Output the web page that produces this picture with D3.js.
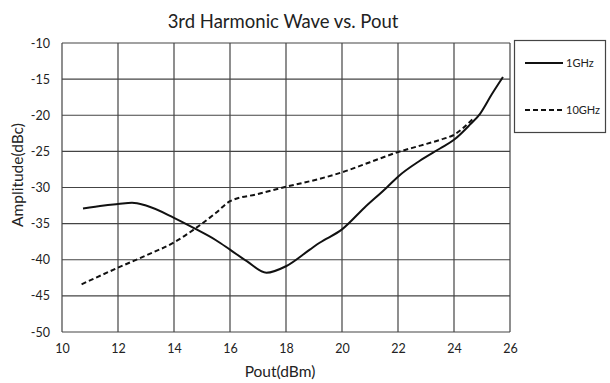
<!DOCTYPE html>
<html>
<head>
<meta charset="utf-8">
<script src="https://cdn.jsdelivr.net/npm/d3@7"></script>
<style>
  body { margin: 0; background: #fff; }
  text { font-family: "Lato", "Open Sans", sans-serif; fill: #222; }
</style>
</head>
<body>
<div class="chart"></div>
<script>
// 3rd harmonic vs output power
const xTicks = [10, 12, 14, 16, 18, 20, 22, 24, 26];
const yTicks = [-10, -15, -20, -25, -30, -35, -40, -45, -50];

const pout1G = [10.75, 11.5, 12, 12.5, 13, 14, 14.75, 15.5, 16, 16.6, 17.3, 18, 18.85, 19.2, 20, 20.8, 21.6, 22, 22.78, 23.5, 24, 24.57, 24.93, 25.35, 25.75];
const amp1G = [-32.9, -32.5, -32.3, -32.1, -32.5, -34.2, -35.7, -37.3, -38.6, -40.2, -41.8, -40.9, -38.6, -37.65, -35.8, -32.8, -30.0, -28.5, -26.3, -24.6, -23.4, -21.3, -19.8, -17.1, -14.7];

const pout10G = [10.7, 12, 13, 14, 14.75, 15.5, 16, 17, 18, 19.2, 20, 21, 22, 22.8, 23.5, 24, 24.7];
const amp10G = [-43.4, -41.1, -39.4, -37.6, -35.7, -33.5, -31.9, -30.9, -29.9, -28.8, -27.9, -26.5, -25.1, -24.2, -23.4, -22.7, -20.4];

const series = [
  {name: '1GHz', x: pout1G, y: amp1G, dash: null},
  {name: '10GHz', x: pout10G, y: amp10G, dash: '5,3'}
];

const width = 610, height = 383;
const margin = {top: 43, right: 100, bottom: 51, left: 62};

const svg = d3.select('.chart')
  .append('svg')
    .attr('width', width)
    .attr('height', height);

const x = d3.scaleLinear().domain([10, 26]).range([margin.left, width - margin.right]);
const y = d3.scaleLinear().domain([-50, -10]).range([height - margin.bottom, margin.top]);

// grid
svg.append('g')
  .selectAll('line')
  .data(xTicks)
  .join('line')
    .attr('x1', d => x(d)).attr('x2', d => x(d))
    .attr('y1', y(-10)).attr('y2', y(-50))
    .attr('stroke', '#444').attr('stroke-width', 1.2);

svg.append('g')
  .selectAll('line')
  .data(yTicks)
  .join('line')
    .attr('x1', x(10)).attr('x2', x(26))
    .attr('y1', d => y(d)).attr('y2', d => y(d))
    .attr('stroke', '#444').attr('stroke-width', 1.2);

// axes (plain hyphen for the minus sign)
const xAxis = svg.append('g')
  .attr('transform', `translate(0,${y(-50)})`)
  .call(d3.axisBottom(x).tickValues(xTicks).tickFormat(d => String(d)).tickSize(0).tickPadding(12));
const yAxis = svg.append('g')
  .attr('transform', `translate(${x(10)},0)`)
  .call(d3.axisLeft(y).tickValues(yTicks).tickFormat(d => String(d)).tickSize(0).tickPadding(12));
[xAxis, yAxis].forEach(g => {
  g.select('.domain').remove();
  g.selectAll('text').style('font-size', '12.5px').style('font-family', '"Lato", sans-serif').attr('fill', '#222');
});

// lines
const line = d3.line()
  .x(d => x(d[0]))
  .y(d => y(d[1]))
  .curve(d3.curveMonotoneX);

svg.append('g')
  .selectAll('path')
  .data(series)
  .join('path')
    .attr('d', s => line(d3.zip(s.x, s.y)))
    .attr('fill', 'none')
    .attr('stroke', '#111')
    .attr('stroke-width', 2)
    .attr('stroke-dasharray', s => s.dash);

// titles
svg.append('text')
  .attr('x', 283).attr('y', 28)
  .attr('text-anchor', 'middle')
  .style('font-size', '18.5px')
  .text('3rd Harmonic Wave vs. Pout');

svg.append('text')
  .attr('x', 280).attr('y', 377)
  .attr('text-anchor', 'middle')
  .style('font-size', '15.5px')
  .text('Pout(dBm)');

svg.append('text')
  .attr('transform', 'translate(23,175) rotate(-90)')
  .attr('text-anchor', 'middle')
  .style('font-size', '15.5px')
  .text('Amplitude(dBc)');

// legend
const legend = svg.append('g');
legend.append('rect')
  .attr('x', 514.5).attr('y', 40.5)
  .attr('width', 91).attr('height', 92)
  .attr('fill', 'none').attr('stroke', '#444').attr('stroke-width', 1.2);

const ly = d3.scalePoint().domain(series.map(s => s.name)).range([63, 110]);
const items = legend.selectAll('g.item')
  .data(series)
  .join('g')
    .attr('class', 'item')
    .attr('transform', s => `translate(525,${ly(s.name)})`);
items.append('line')
  .attr('x1', 0).attr('x2', 38)
  .attr('stroke', '#111').attr('stroke-width', 2)
  .attr('stroke-dasharray', s => s.dash);
items.append('text')
  .attr('x', 41).attr('dy', '0.35em')
  .style('font-size', '11px')
  .text(s => s.name);
</script>
</body>
</html>
